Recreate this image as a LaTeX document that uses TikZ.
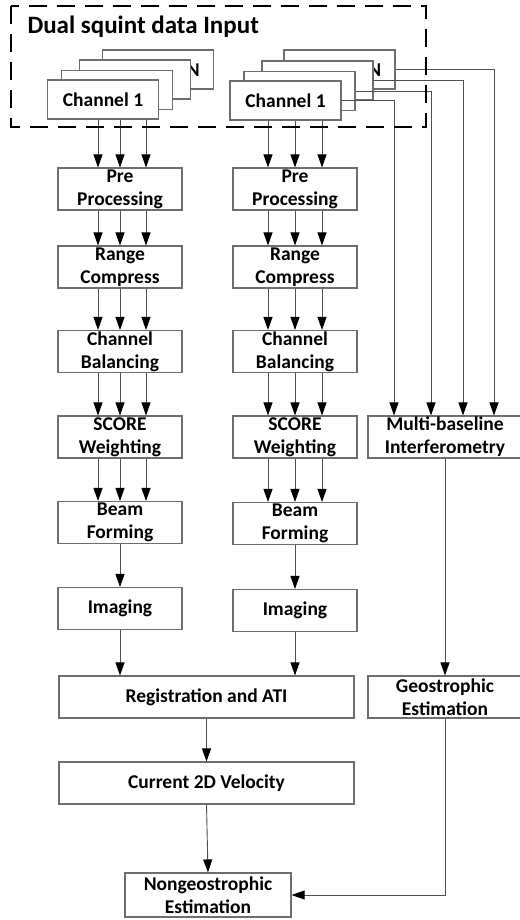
\documentclass[tikz,border=0pt]{standalone}
\usepackage{fontspec}
\setmainfont{Carlito}
\usetikzlibrary{positioning, arrows.meta}

\begin{document}
\begin{tikzpicture}[
  x=1pt, y=-1pt,
  block/.style={
    draw=boxgray,
    line width=1.1pt,
    fill=white,
    minimum width=124pt,
    minimum height=42pt,
    font=\fontsize{19.5}{23}\selectfont\bfseries,
    align=center,
    inner sep=1pt
  },
  chbox/.style={block, minimum width=111pt, minimum height=39pt},
  wideblock/.style={block, minimum width=295pt},
  flow/.style={
    draw=linegray,
    line width=0.9pt,
    -{Triangle[length=13pt, width=9pt, color=black]}
  },
  inbox/.style={
    draw=black,
    line width=2.6pt,
    dash pattern=on 18pt off 10pt
  }
]

\definecolor{boxgray}{RGB}{110,110,110}
\definecolor{linegray}{RGB}{80,80,80}

\useasboundingbox (0,0) rectangle (519,920);

\node[chbox] (chL4) at (158,69.5) {Channel N};
\node[chbox] (chL3) at (135,79.5) {};
\node[chbox] (chL2) at (117,90) {};
\node[chbox] (chL1) at (103,99.5) {Channel 1};

\node[chbox] (chR4) at (339.5,69.5) {Channel N};
\node[chbox] (chR3) at (317.5,80.5) {};
\node[chbox] (chR2) at (299.5,91) {};
\node[chbox] (chR1) at (285.5,100.5) {Channel 1};

\node[block] (preL) at (120,189) {Pre\\Processing};
\node[block] (preR) at (295,189) {Pre\\Processing};
\node[block] (rngL) at (120,267) {Range\\Compress};
\node[block] (rngR) at (295,267) {Range\\Compress};
\node[block] (balL) at (120,351.5) {Channel\\Balancing};
\node[block] (balR) at (295,351.5) {Channel\\Balancing};
\node[block] (scoL) at (120,437) {SCORE\\Weighting};
\node[block] (scoR) at (295,437) {SCORE\\Weighting};
\node[block, minimum width=154pt] (mbi) at (445,437)
  {Multi-baseline\\Interferometry};
\node[block] (beamL) at (120,522.5) {Beam\\Forming};
\node[block] (beamR) at (295,523.5) {Beam\\Forming};
\node[block] (imgL) at (120,608.5) {Imaging};
\node[block] (imgR) at (295,610.5) {Imaging};
\node[wideblock] (reg) at (206.5,697) {Registration and ATI};
\node[block, minimum width=154pt] (geo) at (445,697)
  {Geostrophic\\Estimation};
\node[wideblock] (vel) at (206.5,783) {Current 2D Velocity};
\node[block, minimum width=166pt, minimum height=44pt] (ngeo) at (208,895)
  {Nongeostrophic\\Estimation};

\foreach \a/\b in {chL1/preL, preL/rngL, rngL/balL, balL/scoL, scoL/beamL}
  \foreach \dx in {-22,0,26}
    \draw[flow] ([xshift=\dx pt]\b.north |- \a.south) -- ([xshift=\dx pt]\b.north);
\foreach \a/\b in {chR1/preR, preR/rngR, rngR/balR, balR/scoR, scoR/beamR}
  \foreach \dx in {-27,0,27}
    \draw[flow] ([xshift=\dx pt]\b.north |- \a.south) -- ([xshift=\dx pt]\b.north);

\draw[flow] (beamL) -- (imgL);
\draw[flow] (beamR) -- (imgR);
\draw[flow] (imgL.south) -- (imgL.south |- reg.north);
\draw[flow] (imgR.south) -- (imgR.south |- reg.north);
\draw[flow] (reg) -- (vel);
\draw[flow] (vel.south) -- (ngeo.north);

\draw[flow] (chR4.east) -| ([xshift=49pt]mbi.north);
\draw[flow] (chR3.east) -| ([xshift=18pt]mbi.north);
\draw[flow] (chR2.east) -| ([xshift=-14pt]mbi.north);
\draw[flow] (chR1.east) -| ([xshift=-51pt]mbi.north);
\draw[flow] (mbi) -- (geo);
\draw[flow] (geo.south) |- (ngeo.east);

\draw[inbox] (11,6) rectangle (426,127);
\node[font=\fontsize{25}{29}\selectfont\bfseries, anchor=west] (title) at (24,27)
  {Dual squint data Input};

\end{tikzpicture}
\end{document}
